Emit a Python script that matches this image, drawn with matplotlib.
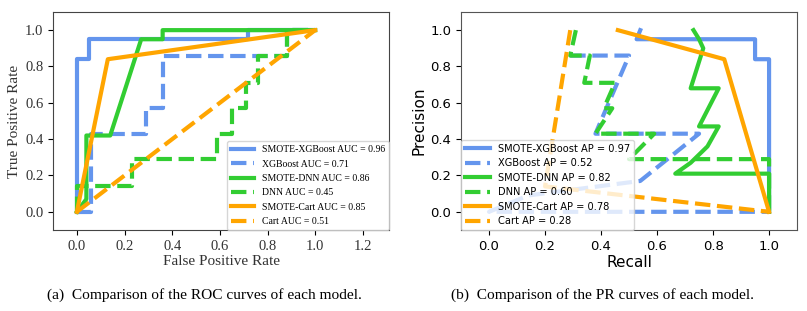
import matplotlib
matplotlib.use("Agg")
import matplotlib.pyplot as plt

# colours / labels
c_blue = 'cornflowerblue'
c_green = 'limegreen'
c_orange = 'orange'

# ROC curves (fpr, tpr)
roc_smote_xgb_fpr = [0, 0, 0.05, 0.05, 0.72, 0.72, 1.0]
roc_smote_xgb_tpr = [0, 0.84, 0.84, 0.95, 0.95, 1.0, 1.0]
roc_xgb_fpr = [0, 0.06, 0.06, 0.29, 0.29, 0.36, 0.36, 0.88, 0.88, 1.0]
roc_xgb_tpr = [0, 0, 0.43, 0.43, 0.57, 0.57, 0.86, 0.86, 1.0, 1.0]
roc_smote_dnn_fpr = [0, 0.04, 0.04, 0.14, 0.27, 0.36, 0.36, 1.0]
roc_smote_dnn_tpr = [0, 0.07, 0.42, 0.42, 0.95, 0.95, 1.0, 1.0]
roc_dnn_fpr = [0, 0, 0.23, 0.23, 0.59, 0.59, 0.65, 0.65, 0.71, 0.71, 0.76, 0.76, 0.88, 0.88, 1.0]
roc_dnn_tpr = [0, 0.14, 0.14, 0.29, 0.29, 0.43, 0.43, 0.57, 0.57, 0.71, 0.71, 0.86, 0.86, 1.0, 1.0]
roc_smote_cart_fpr = [0, 0.13, 1.0]
roc_smote_cart_tpr = [0, 0.84, 1.0]
roc_cart_fpr = [0, 1.0]
roc_cart_tpr = [0, 1.0]

roc_labels = ['SMOTE-XGBoost AUC = 0.96', 'XGBoost AUC = 0.71',
              'SMOTE-DNN AUC = 0.86', 'DNN AUC = 0.45',
              'SMOTE-Cart AUC = 0.85', 'Cart AUC = 0.51']

# PR curves (recall, precision)
pr_smote_xgb_r = [0.54, 0.527, 0.95, 0.95, 1.0, 1.0]
pr_smote_xgb_p = [1.0, 0.95, 0.95, 0.84, 0.84, 0.0]
pr_xgb_r = [0.29, 0.50, 0.38, 0.75, 0.54, 0.14, 0.0, 1.0]
pr_xgb_p = [0.86, 0.86, 0.43, 0.43, 0.17, 0.09, 0.0, 0.0]
pr_smote_dnn_r = [0.73, 0.75, 0.765, 0.72, 0.82, 0.75, 0.82, 0.78, 0.72, 0.665, 1.0, 1.0]
pr_smote_dnn_p = [1.0, 0.95, 0.90, 0.68, 0.68, 0.47, 0.47, 0.36, 0.27, 0.21, 0.21, 0.0]
pr_dnn_r = [0.31, 0.29, 0.36, 0.34, 0.45, 0.41, 0.44, 0.38, 0.59, 0.50, 1.0, 1.0]
pr_dnn_p = [1.0, 0.86, 0.86, 0.71, 0.71, 0.57, 0.57, 0.43, 0.43, 0.29, 0.29, 0.0]
pr_smote_cart_r = [0.46, 0.84, 1.0]
pr_smote_cart_p = [1.0, 0.84, 0.0]
pr_cart_r = [0.29, 0.20, 1.0]
pr_cart_p = [1.0, 0.14, 0.0]

pr_labels = ['SMOTE-XGBoost AP = 0.97', 'XGBoost AP = 0.52',
             'SMOTE-DNN AP = 0.82', 'DNN AP = 0.60',
             'SMOTE-Cart AP = 0.78', 'Cart AP = 0.28']

serif = ['Liberation Serif', 'DejaVu Serif']
lw = 3

fig = plt.figure(figsize=(8.07, 3.11), dpi=100)
ax1 = fig.add_axes([0.0657, 0.2605, 0.4164, 0.701])
ax2 = fig.add_axes([0.5713, 0.2605, 0.4164, 0.701])

# ROC
ax1.plot(roc_smote_xgb_fpr, roc_smote_xgb_tpr, color=c_blue, lw=lw, label=roc_labels[0])
ax1.plot(roc_xgb_fpr, roc_xgb_tpr, color=c_blue, lw=lw, ls='--', label=roc_labels[1])
ax1.plot(roc_smote_dnn_fpr, roc_smote_dnn_tpr, color=c_green, lw=lw, label=roc_labels[2])
ax1.plot(roc_dnn_fpr, roc_dnn_tpr, color=c_green, lw=lw, ls='--', label=roc_labels[3])
ax1.plot(roc_smote_cart_fpr, roc_smote_cart_tpr, color=c_orange, lw=lw, label=roc_labels[4])
ax1.plot(roc_cart_fpr, roc_cart_tpr, color=c_orange, lw=lw, ls='--', label=roc_labels[5])
ax1.set_xlim(-0.1, 1.31)
ax1.set_ylim(-0.1, 1.1)
ax1.set_xticks([0, 0.2, 0.4, 0.6, 0.8, 1.0, 1.2])
ax1.set_yticks([0, 0.2, 0.4, 0.6, 0.8, 1.0])
for t in ax1.get_xticklabels() + ax1.get_yticklabels():
    t.set_family(serif)
    t.set_fontsize(10.5)
    t.set_color('#333333')
ax1.set_xlabel('False Positive Rate', family=serif, fontsize=11, color='#333333', labelpad=2)
ax1.set_ylabel('True Positive Rate', family=serif, fontsize=11, color='#333333', labelpad=3)
ax1.legend(loc='lower right', borderaxespad=0, prop={'family': serif, 'size': 7},
           handlelength=2.4, labelspacing=0.55)
for s in ax1.spines.values():
    s.set_color('#444444')

# PR
ax2.plot(pr_smote_xgb_r, pr_smote_xgb_p, color=c_blue, lw=lw, label=pr_labels[0])
ax2.plot(pr_xgb_r, pr_xgb_p, color=c_blue, lw=lw, ls='--', label=pr_labels[1])
ax2.plot(pr_smote_dnn_r, pr_smote_dnn_p, color=c_green, lw=lw, label=pr_labels[2])
ax2.plot(pr_dnn_r, pr_dnn_p, color=c_green, lw=lw, ls='--', label=pr_labels[3])
ax2.plot(pr_smote_cart_r, pr_smote_cart_p, color=c_orange, lw=lw, label=pr_labels[4])
ax2.plot(pr_cart_r, pr_cart_p, color=c_orange, lw=lw, ls='--', label=pr_labels[5])
ax2.set_xlim(-0.1, 1.1)
ax2.set_ylim(-0.1, 1.1)
ax2.set_xticks([0, 0.2, 0.4, 0.6, 0.8, 1.0])
ax2.set_yticks([0, 0.2, 0.4, 0.6, 0.8, 1.0])
ax2.tick_params(labelsize=9.5)
ax2.set_xlabel('Recall', fontsize=11, labelpad=2)
ax2.set_ylabel('Precision', fontsize=11, labelpad=3)
ax2.legend(loc='lower left', borderaxespad=0, prop={'size': 7.1},
           handlelength=2.5, labelspacing=0.45)
for s in ax2.spines.values():
    s.set_color('#555555')

fig.text(0.253, 0.05, '(a)  Comparison of the ROC curves of each model.',
         ha='center', va='center', family=serif, fontsize=11.1)
fig.text(0.746, 0.05, '(b)  Comparison of the PR curves of each model.',
         ha='center', va='center', family=serif, fontsize=11.1)

fig.savefig('out.png', dpi=100)
